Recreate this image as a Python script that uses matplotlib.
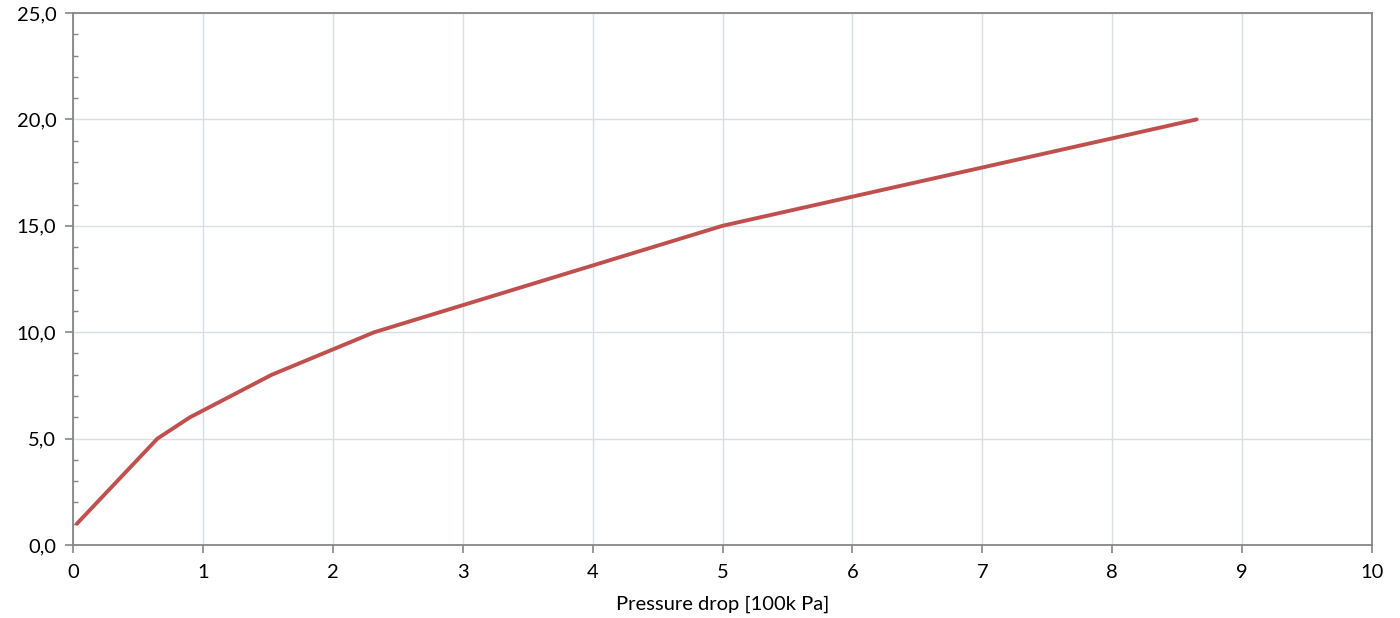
import matplotlib
matplotlib.use('Agg')
import matplotlib.pyplot as plt
from matplotlib.ticker import MultipleLocator, FuncFormatter

# data
pressure_drop = [0.03, 0.65, 0.90, 1.53, 2.32, 5.00, 8.65]
flowrate = [1.0, 5.0, 6.0, 8.0, 10.0, 15.0, 20.0]

line_color = '#C0504D'
axis_color = '#868686'
grid_color = '#D9DEE3'

plt.rcParams['font.family'] = ['Lato', 'DejaVu Sans']

fig = plt.figure(figsize=(14, 6.18), dpi=100)
ax = fig.add_axes([73 / 1400, 73 / 618, 1299 / 1400, 532 / 618])

ax.plot(pressure_drop, flowrate, color=line_color, linewidth=2.8, solid_capstyle='round')

ax.set_xlim(0, 10)
ax.set_ylim(0, 25)
ax.xaxis.set_major_locator(MultipleLocator(1))
ax.yaxis.set_major_locator(MultipleLocator(5))
ax.yaxis.set_minor_locator(MultipleLocator(1))
ax.yaxis.set_major_formatter(FuncFormatter(lambda v, pos: f"{v:.1f}".replace('.', ',')))

ax.grid(True, which='major', color=grid_color, linewidth=1.0)
ax.set_axisbelow(True)

for side in ['left', 'bottom', 'top', 'right']:
    ax.spines[side].set_color(axis_color)
    ax.spines[side].set_linewidth(1.3)

ax.tick_params(axis='both', which='major', direction='out', length=6, width=1.2,
               color=axis_color, labelsize=14.5, labelcolor='black')
ax.tick_params(axis='y', which='major', pad=6)
ax.tick_params(axis='y', which='minor', direction='in', length=3.5, width=1.0, color=axis_color)
ax.tick_params(axis='x', which='major', pad=8)

ax.set_xlabel('Pressure drop [100k Pa]', fontsize=14.5, labelpad=10)
ax.set_ylabel('Flowrate [l/min]', fontsize=14.5, color='#1F4E9A')
ax.yaxis.set_label_coords(-0.062, 0.5)

fig.savefig('out.png', dpi=100, facecolor='white')
